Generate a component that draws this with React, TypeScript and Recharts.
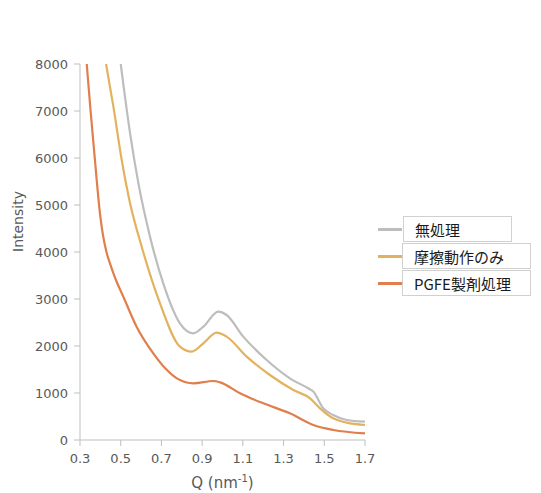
import { LineChart, Line, XAxis, YAxis, Legend } from 'recharts';

// Q (nm^-1) と強度を系列ごとに
const untreatedQ = [0.5, 0.546, 0.587, 0.644, 0.709, 0.791, 0.857, 0.906, 0.979, 1.02, 1.102, 1.217, 1.331, 1.421, 1.446, 1.495, 1.544, 1.61, 1.7];
const untreatedI = [8000, 6525, 5461, 4326, 3333, 2482, 2270, 2411, 2730, 2660, 2199, 1702, 1312, 1100, 1033, 674, 532, 426, 390];

const frictionQ = [0.428, 0.464, 0.505, 0.546, 0.603, 0.693, 0.791, 0.849, 0.906, 0.971, 1.02, 1.119, 1.233, 1.348, 1.43, 1.479, 1.544, 1.61, 1.7];
const frictionI = [8000, 7092, 5957, 5036, 4113, 2908, 1986, 1879, 2057, 2284, 2199, 1773, 1383, 1064, 887, 674, 461, 369, 319];

const pgfeQ = [0.333, 0.352, 0.369, 0.384, 0.398, 0.412, 0.43, 0.45, 0.475, 0.513, 0.578, 0.66, 0.72, 0.78, 0.857, 0.955, 0.988, 1.086, 1.2, 1.331, 1.446, 1.544, 1.7];
const pgfeI = [8000, 7000, 6170, 5440, 4820, 4380, 4000, 3720, 3420, 3049, 2411, 1844, 1520, 1300, 1206, 1255, 1227, 993, 780, 567, 319, 213, 142];

const xTicks = [0.3, 0.5, 0.7, 0.9, 1.1, 1.3, 1.5, 1.7];
const yTicks = [0, 1000, 2000, 3000, 4000, 5000, 6000, 7000, 8000];

const seriesNames = ['無処理', '摩擦動作のみ', 'PGFE製剤処理'];
const seriesColors = ['#bdbdbd', '#e3b25e', '#e07f4c'];

const toPoints = (qs: number[], is: number[]) => qs.map((q, k) => ({ q, v: is[k] }));

const series = [
  toPoints(untreatedQ, untreatedI),
  toPoints(frictionQ, frictionI),
  toPoints(pgfeQ, pgfeI),
];

const font = '"DejaVu Sans", Verdana, sans-serif';

const LegendBoxes = () => {
  const boxes = [
    { left: 28, top: 0, width: 109 },
    { left: 27, top: 27, width: 129 },
    { left: 27, top: 54, width: 129 },
  ];
  return (
    <div style={{ position: 'relative', width: 160, height: 84 }}>
      {seriesNames.map((name, k) => (
        <div key={name}>
          <div
            style={{
              position: 'absolute',
              left: 3,
              top: boxes[k].top + 12,
              width: 24,
              height: 3,
              background: seriesColors[k],
            }}
          />
          <div
            style={{
              position: 'absolute',
              left: boxes[k].left,
              top: boxes[k].top,
              width: boxes[k].width,
              height: 26,
              border: '1px solid #d0d0d0',
              background: '#fff',
              fontFamily: '"Noto Sans CJK JP", "Noto Sans", sans-serif',
              fontSize: 15,
              lineHeight: '26px',
              paddingLeft: 11,
              boxSizing: 'border-box',
              color: '#1a1a1a',
              whiteSpace: 'nowrap',
            }}
          >
            {name}
          </div>
        </div>
      ))}
    </div>
  );
};

const XTitle = (props: any) => {
  const { viewBox } = props;
  const cx = viewBox.x + viewBox.width / 2;
  return (
    <text x={cx} y={488} textAnchor="middle" fill="#595959" fontSize={15} fontFamily={font}>
      Q (nm
      <tspan fontSize={10} dy={-6}>-1</tspan>
      <tspan dy={6}>)</tspan>
    </text>
  );
};

export default function App() {
  return (
    <div style={{ position: 'absolute', left: 0, top: 0, background: '#fff' }}>
      <LineChart
        width={541}
        height={493}
        margin={{ top: 64, right: 176, left: 0, bottom: 0 }}
      >
        <XAxis
          type="number"
          dataKey="q"
          domain={[0.3, 1.7]}
          ticks={xTicks}
          allowDataOverflow
          tickFormatter={(t: number) => t.toFixed(1)}
          height={53}
          tickSize={6}
          tickMargin={8}
          stroke="#bfbfbf"
          tick={{ fill: '#595959', fontSize: 13, fontFamily: font }}
          label={<XTitle />}
        />
        <YAxis
          type="number"
          domain={[0, 8000]}
          ticks={yTicks}
          allowDataOverflow
          width={80}
          tickSize={6}
          tickMargin={6}
          stroke="#bfbfbf"
          tick={{ fill: '#595959', fontSize: 13, fontFamily: font }}
          label={{
            value: 'Intensity',
            angle: -90,
            position: 'insideLeft',
            offset: 18,
            fill: '#595959',
            fontSize: 14,
            fontFamily: font,
          }}
        />
        <Legend
          layout="vertical"
          align="center"
          verticalAlign="middle"
          content={<LegendBoxes />}
          wrapperStyle={{ left: 375, top: 216, width: 160 }}
        />
        {series.map((pts, k) => (
          <Line
            key={seriesNames[k]}
            data={pts}
            dataKey="v"
            name={seriesNames[k]}
            type="monotone"
            stroke={seriesColors[k]}
            strokeWidth={2.2}
            dot={false}
            activeDot={false}
            isAnimationActive={false}
          />
        ))}
      </LineChart>
    </div>
  );
}
